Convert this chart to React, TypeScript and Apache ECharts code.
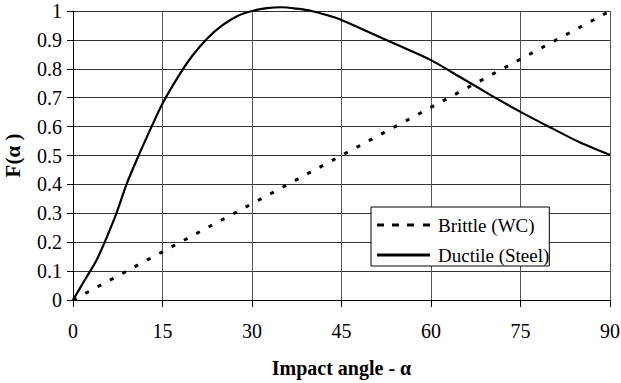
import React, { useEffect, useRef } from "react";
import * as echarts from "echarts";

const xTicks = [0, 15, 30, 45, 60, 75, 90];
const yTicks = [0, 0.1, 0.2, 0.3, 0.4, 0.5, 0.6, 0.7, 0.8, 0.9, 1];

const brittleAngles = [0, 15, 30, 45, 60, 75, 90];
const brittleValues = [0, 0.1667, 0.3333, 0.5, 0.6667, 0.8333, 1];

const ductileAngles = [0, 2, 4, 7, 9, 11, 13, 15, 18, 20, 22.5, 25, 27.5, 30, 32.5, 35, 37.5, 40, 42.5, 45, 50, 55, 60, 65, 70, 75, 80, 85, 90];
const ductileValues = [0, 0.07, 0.14, 0.285, 0.402, 0.5, 0.592, 0.68, 0.785, 0.845, 0.905, 0.95, 0.982, 1.0, 1.01, 1.013, 1.008, 1.0, 0.986, 0.969, 0.923, 0.877, 0.83, 0.77, 0.709, 0.651, 0.597, 0.545, 0.502];

const FONT = "Times New Roman";
const legendText = { fontFamily: FONT, fontSize: 19, fontWeight: "normal", color: "#000", lineHeight: 20, padding: [0, 0, 0, 3] };

export default function App() {
  const ref = useRef<HTMLDivElement>(null);
  useEffect(() => {
    if (!ref.current) return;
    const chart = echarts.init(ref.current, null, { renderer: "svg" });
    chart.setOption({
      animation: false,
      backgroundColor: "#fff",
      textStyle: { fontFamily: FONT },
      grid: { left: 73, right: 11, top: 11, bottom: 83, containLabel: false, outerBoundsMode: "none" },
      xAxis: {
        type: "value",
        min: xTicks[0],
        max: xTicks[xTicks.length - 1],
        interval: 15,
        name: "Impact angle - α",
        nameLocation: "middle",
        nameGap: 58,
        nameTextStyle: { fontFamily: FONT, fontSize: 20, fontWeight: "bold", color: "#000" },
        axisLine: { lineStyle: { color: "#000", width: 1 } },
        axisTick: { show: true, length: 7, lineStyle: { color: "#000" } },
        axisLabel: { margin: 21, fontFamily: FONT, fontSize: 20, color: "#000" },
        splitLine: { show: true, lineStyle: { color: "#555", width: 1 } },
      },
      yAxis: {
        type: "value",
        min: yTicks[0],
        max: yTicks[yTicks.length - 1],
        interval: 0.1,
        name: "F(α )",
        nameLocation: "middle",
        nameGap: 50,
        nameRotate: 90,
        nameTextStyle: { fontFamily: FONT, fontSize: 21, fontWeight: "bold", color: "#000" },
        axisLine: { show: true, lineStyle: { color: "#000", width: 1 } },
        axisTick: { show: true, length: 6, lineStyle: { color: "#000" } },
        axisLabel: { margin: 11, fontFamily: FONT, fontSize: 20, color: "#000" },
        splitLine: { show: true, lineStyle: { color: "#333", width: 1 } },
      },
      legend: {
        orient: "vertical",
        left: 371,
        top: 207,
        itemWidth: 53,
        itemHeight: 14,
        itemGap: 10,
        padding: [8, 0, 1, 6],
        backgroundColor: "#fff",
        borderColor: "#000",
        borderWidth: 1,
        borderRadius: 0,
        textStyle: legendText,
        data: [
          { name: "Brittle (WC)", icon: "path://M0,0h7v3h-7z M15,0h7v3h-7z M30,0h7v3h-7z M46,0h7v3h-7z", textStyle: legendText },
          { name: "Ductile (Steel)", icon: "path://M0,0h53v3h-53z", textStyle: legendText },
        ],
      },
      series: [
        {
          name: "Brittle (WC)",
          type: "line",
          symbol: "none",
          data: brittleAngles.map((a, i) => [a, brittleValues[i]]),
          lineStyle: { color: "#000", width: 3, type: [4, 10], cap: "butt" },
          itemStyle: { color: "#000" },
          clip: false,
          z: 3,
        },
        {
          name: "Ductile (Steel)",
          type: "line",
          symbol: "none",
          smooth: 0.25,
          data: ductileAngles.map((a, i) => [a, ductileValues[i]]),
          lineStyle: { color: "#000", width: 2.2 },
          itemStyle: { color: "#000" },
          clip: false,
          z: 4,
        },
      ],
    });
    return () => chart.dispose();
  }, []);
  return <div ref={ref} style={{ position: "fixed", left: 0, top: 0, width: 621, height: 383 }} />;
}
